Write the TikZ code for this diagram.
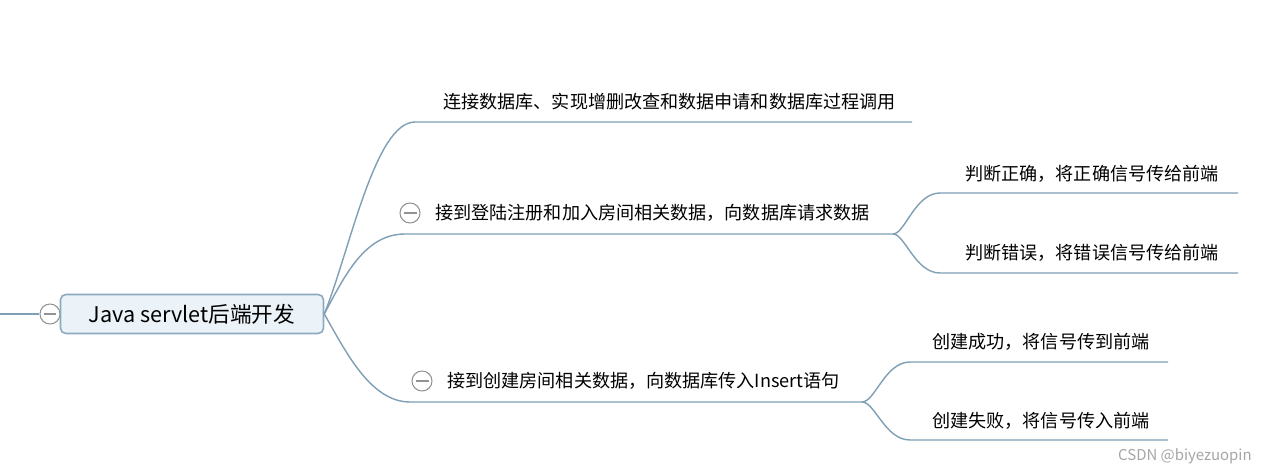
\documentclass[tikz,border=0pt]{standalone}
\usepackage{fontspec}
\setmainfont{Noto Sans CJK SC}
\usepackage{tikz}
\usetikzlibrary{positioning,calc}
\definecolor{branch}{HTML}{7F9FB6}
\definecolor{rootfill}{HTML}{EBF3F9}
\definecolor{rootdraw}{HTML}{8DAAC0}
\tikzset{topic/.style={anchor=west,inner sep=0pt,font=\fontsize{10.3}{12}\selectfont},
  root/.style={draw=rootdraw,fill=rootfill,rounded corners=3pt,line width=0.9pt,
    minimum width=5.26cm,minimum height=0.78cm,font=\fontsize{12.3}{14}\selectfont},
  fold/.style={draw=gray!85,circle,line width=0.6pt,minimum size=0.4cm,inner sep=0pt,fill=white,
    path picture={\draw[gray!85,line width=0.6pt] ([xshift=-0.13cm]path picture bounding box.center)
      -- ([xshift=0.13cm]path picture bounding box.center);}},
  link/.style={draw=branch,line width=0.8pt},
  wmark/.style={anchor=east,inner sep=0pt,text=gray!70,font=\fontsize{8.5}{10}\selectfont}}

\begin{document}
\begin{tikzpicture}[x=0.02cm, y=-0.02cm]
    \useasboundingbox[fill=white] (0,0) rectangle (1268,473);
    % root
    \coordinate (in) at (0,314);
    \node[fold] (f0) at (50,314) {};
    \path[link] (in) edge (f0);
    \node[root] (root) at (192,314) {Java servlet后端开发};
    % first level
    \node[topic] (db) at (443,102) {连接数据库、实现增删改查和数据申请和数据库过程调用};
    \coordinate (db-s) at (415,122);
    \coordinate (db-e) at (912,122);
    \node[fold] (f1) at (410,213) {};
    \node[topic] (login) at (435,213) {接到登陆注册和加入房间相关数据，向数据库请求数据};
    \coordinate (login-s) at (405,234);
    \coordinate (login-e) at (893,234);
    \node[fold] (f2) at (422,381) {};
    \node[topic] (create) at (447,381) {接到创建房间相关数据，向数据库传入Insert语句};
    \coordinate (create-s) at (410,402);
    \coordinate (create-e) at (862,402);
    \draw[link] (root.east) .. controls (350,250) and (375,122) .. (db-s) -- (db-e);
    \draw[link] (root.east) .. controls (345,275) and (365,234) .. (login-s) -- (login-e);
    \draw[link] (root.east) .. controls (345,350) and (370,402) .. (create-s) -- (create-e);
    % second level
    \node[topic] (ok) at (965,174) {判断正确，将正确信号传给前端};
    \coordinate (ok-s) at (940,193);
    \coordinate (ok-e) at (1238,193);
    \node[topic] (err) at (965,253) {判断错误，将错误信号传给前端};
    \coordinate (err-s) at (940,273);
    \coordinate (err-e) at (1238,273);
    \draw[link] (login-e) .. controls (905,234) and (915,193) .. (ok-s) -- (ok-e);
    \draw[link] (login-e) .. controls (905,234) and (915,273) .. (err-s) -- (err-e);
    \node[topic] (succ) at (932,342) {创建成功，将信号传到前端};
    \coordinate (succ-s) at (910,362);
    \coordinate (succ-e) at (1168,362);
    \node[topic] (fail) at (932,421) {创建失败，将信号传入前端};
    \coordinate (fail-s) at (910,440);
    \coordinate (fail-e) at (1168,440);
    \draw[link] (create-e) .. controls (875,402) and (885,362) .. (succ-s) -- (succ-e);
    \draw[link] (create-e) .. controls (875,402) and (885,440) .. (fail-s) -- (fail-e);
    \node[wmark] (wm) at (1252,456) {CSDN @biyezuopin};
\end{tikzpicture}
\end{document}
